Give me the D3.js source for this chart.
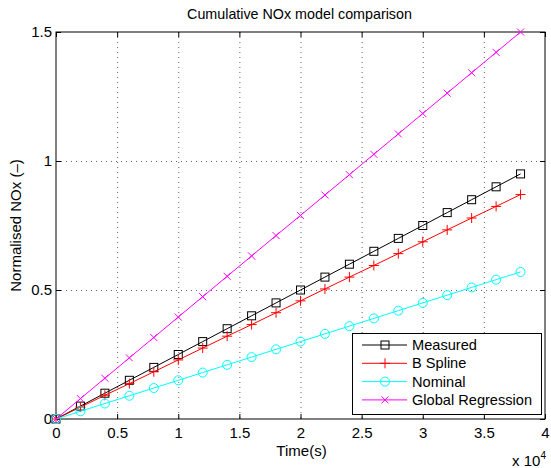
<!DOCTYPE html>
<html><head><meta charset="utf-8">
<script src="https://cdn.jsdelivr.net/npm/d3@7"></script>
<style>
body{margin:0;background:#fff;}
text{font-family:"Liberation Sans",Arial,sans-serif;}
</style></head>
<body>
<svg id="c" width="551" height="468"></svg>
<script>
const time = [0,2000,4000,6000,8000,10000,12000,14000,16000,18000,20000,22000,24000,26000,28000,30000,32000,34000,36000,38000];
const measured = [0,0.05,0.10,0.15,0.20,0.25,0.30,0.35,0.40,0.45,0.50,0.55,0.60,0.65,0.70,0.75,0.80,0.85,0.90,0.95];
const bSpline = [0,0.046,0.092,0.137,0.183,0.229,0.275,0.321,0.366,0.412,0.458,0.504,0.55,0.595,0.641,0.687,0.733,0.779,0.824,0.87];
const nominal = [0,0.03,0.06,0.09,0.12,0.15,0.18,0.21,0.24,0.27,0.30,0.33,0.36,0.39,0.42,0.45,0.48,0.51,0.54,0.57];
const globalReg = [0,0.079,0.158,0.237,0.316,0.395,0.474,0.553,0.632,0.711,0.789,0.868,0.947,1.026,1.105,1.184,1.263,1.342,1.421,1.5];
const xTicks = [0,5000,10000,15000,20000,25000,30000,35000,40000];
const xTickLabels = ["0","0.5","1","1.5","2","2.5","3","3.5","4"];
const yTicks = [0,0.5,1,1.5];
const yTickLabels = ["0","0.5","1","1.5"];
const seriesNames = ["Measured","B Spline","Nominal","Global Regression"];
const seriesColors = ["#000000","#ff0000","#00ffff","#ff00ff"];
const seriesMarkers = ["square","plus","circle","cross"];
const seriesData = [measured,bSpline,nominal,globalReg];

const svg = d3.select("#c");
const L=56, R=545, T=32, B=419;
const x = d3.scaleLinear().domain([0,40000]).range([L,R]);
const y = d3.scaleLinear().domain([0,1.5]).range([B,T]);

// grid
const grid = svg.append("g").attr("stroke","#000").attr("stroke-width",1).attr("stroke-dasharray","1,4").attr("opacity",0.6);
xTicks.slice(1,-1).forEach(t=>grid.append("line").attr("x1",x(t)+0.5).attr("x2",x(t)+0.5).attr("y1",T).attr("y2",B));
yTicks.slice(1,-1).forEach(t=>grid.append("line").attr("y1",Math.round(y(t))+0.5).attr("y2",Math.round(y(t))+0.5).attr("x1",L).attr("x2",R));

// axes with inward ticks
const fmtX = (d,i)=>xTickLabels[i];
const fmtY = (d,i)=>yTickLabels[i];
const gx = svg.append("g").attr("transform",`translate(0,${B})`)
  .call(d3.axisBottom(x).tickValues(xTicks).tickFormat(fmtX).tickSizeInner(-5).tickSizeOuter(0).tickPadding(8));
const gxt = svg.append("g").attr("transform",`translate(0,${T})`)
  .call(d3.axisTop(x).tickValues(xTicks).tickFormat("").tickSizeInner(-5).tickSizeOuter(0));
const gy = svg.append("g").attr("transform",`translate(${L},0)`)
  .call(d3.axisLeft(y).tickValues(yTicks).tickFormat(fmtY).tickSizeInner(-5).tickSizeOuter(0).tickPadding(4));
const gyr = svg.append("g").attr("transform",`translate(${R},0)`)
  .call(d3.axisRight(y).tickValues(yTicks).tickFormat("").tickSizeInner(-5).tickSizeOuter(0));
[gx,gxt,gy,gyr].forEach(g=>{
  g.select(".domain").remove();
  g.selectAll("text").attr("font-size",15).attr("fill","#000").attr("font-family","Liberation Sans, Arial, sans-serif");
  g.selectAll("line").attr("stroke","#000");
});
svg.append("rect").attr("x",L).attr("y",T).attr("width",R-L).attr("height",B-T).attr("fill","none").attr("stroke","#000").attr("stroke-width",1);

function drawMarker(g,type,cx,cy,color){
  if(type==="square") g.append("rect").attr("x",cx-4).attr("y",cy-4).attr("width",8).attr("height",8).attr("fill","none").attr("stroke",color);
  else if(type==="circle") g.append("circle").attr("cx",cx).attr("cy",cy).attr("r",4.5).attr("fill","none").attr("stroke",color);
  else if(type==="plus") g.append("path").attr("d",`M${cx-5},${cy}H${cx+5}M${cx},${cy-5}V${cy+5}`).attr("stroke",color);
  else if(type==="cross") g.append("path").attr("d",`M${cx-3.5},${cy-3.5}L${cx+3.5},${cy+3.5}M${cx-3.5},${cy+3.5}L${cx+3.5},${cy-3.5}`).attr("stroke",color);
}

const line = d3.line().x((d,i)=>x(time[i])).y(d=>y(d));
seriesData.forEach((s,k)=>{
  const g = svg.append("g");
  g.append("path").datum(s).attr("d",line).attr("fill","none").attr("stroke",seriesColors[k]).attr("stroke-width",1);
  s.forEach((v,i)=>drawMarker(g,seriesMarkers[k],x(time[i]),y(v),seriesColors[k]));
});

// title & labels
svg.append("text").attr("x",(L+R)/2-1).attr("y",19).attr("text-anchor","middle").attr("font-size",14.3).text("Cumulative NOx model comparison");
svg.append("text").attr("x",(L+R)/2+1).attr("y",456).attr("text-anchor","middle").attr("font-size",15).text("Time(s)");
svg.append("text").attr("transform",`translate(21,${(T+B)/2}) rotate(-90)`).attr("text-anchor","middle").attr("font-size",15).text("Normalised NOx (\u2013)");
const ex = svg.append("text").attr("x",546).attr("y",466).attr("text-anchor","end").attr("font-size",15);
ex.append("tspan").text("x 10");
ex.append("tspan").attr("dy",-7).attr("font-size",10).text("4");

// legend
const lg = svg.append("g");
lg.append("rect").attr("x",352.5).attr("y",333.5).attr("width",189).attr("height",81).attr("fill","#fff").attr("stroke","#000");
seriesNames.forEach((n,k)=>{
  const yy = 345 + k*18.3;
  lg.append("line").attr("x1",362).attr("x2",407).attr("y1",yy).attr("y2",yy).attr("stroke",seriesColors[k]);
  drawMarker(lg,seriesMarkers[k],385,yy,seriesColors[k]);
  lg.append("text").attr("x",412).attr("y",yy+5).attr("font-size",14.6).text(n);
});
</script>
</body></html>
